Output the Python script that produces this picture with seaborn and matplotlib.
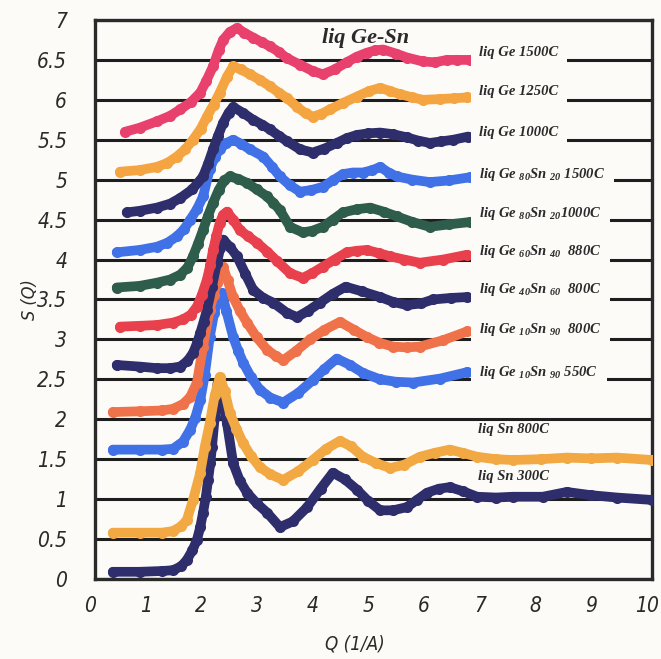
import seaborn as sns
import matplotlib.pyplot as plt
import matplotlib.transforms as mtransforms
import numpy as np
import pandas as pd

# S(Q) curves (already vertically offset as plotted)
q_ge1500 = [0.54, 0.8, 1.11, 1.35, 1.53, 1.72, 1.89, 2.0, 2.12, 2.22, 2.30, 2.42, 2.55, 2.68, 2.84, 3.0, 3.14, 3.30, 3.45, 3.68, 3.91, 4.09, 4.30, 4.52, 4.70, 4.88, 5.03, 5.17, 5.40, 5.60, 5.89, 6.10, 6.32, 6.50, 6.73]
s_ge1500 = [5.60, 5.65, 5.73, 5.80, 5.88, 5.97, 6.09, 6.24, 6.42, 6.62, 6.75, 6.85, 6.90, 6.84, 6.78, 6.72, 6.67, 6.60, 6.52, 6.44, 6.36, 6.32, 6.38, 6.47, 6.54, 6.59, 6.62, 6.63, 6.58, 6.53, 6.48, 6.47, 6.50, 6.50, 6.50]

q_ge1250 = [0.45, 0.8, 1.11, 1.30, 1.47, 1.62, 1.76, 1.90, 2.01, 2.13, 2.24, 2.37, 2.48, 2.62, 2.78, 2.96, 3.14, 3.30, 3.45, 3.63, 3.78, 3.91, 4.05, 4.22, 4.45, 4.70, 4.92, 5.12, 5.30, 5.48, 5.70, 5.89, 6.20, 6.45, 6.68]
s_ge1250 = [5.10, 5.12, 5.16, 5.21, 5.29, 5.38, 5.50, 5.64, 5.79, 5.94, 6.09, 6.29, 6.42, 6.38, 6.32, 6.25, 6.17, 6.09, 6.02, 5.91, 5.83, 5.79, 5.82, 5.88, 5.96, 6.04, 6.11, 6.15, 6.11, 6.07, 6.03, 6.00, 6.01, 6.02, 6.03]

q_ge1000 = [0.57, 0.8, 1.11, 1.35, 1.53, 1.75, 1.94, 2.03, 2.12, 2.21, 2.30, 2.40, 2.48, 2.65, 2.84, 3.00, 3.14, 3.30, 3.45, 3.68, 3.91, 4.12, 4.34, 4.52, 4.70, 4.90, 5.12, 5.35, 5.60, 5.80, 6.01, 6.22, 6.43, 6.70]
s_ge1000 = [4.59, 4.61, 4.65, 4.70, 4.77, 4.88, 5.04, 5.20, 5.38, 5.55, 5.71, 5.84, 5.91, 5.84, 5.75, 5.69, 5.63, 5.55, 5.48, 5.38, 5.34, 5.39, 5.46, 5.52, 5.56, 5.58, 5.59, 5.57, 5.53, 5.49, 5.46, 5.48, 5.50, 5.54]

q_ge80_1500 = [0.39, 0.8, 1.11, 1.30, 1.47, 1.60, 1.71, 1.83, 1.94, 2.06, 2.15, 2.24, 2.36, 2.48, 2.62, 2.78, 3.02, 3.18, 3.32, 3.50, 3.68, 3.88, 4.09, 4.27, 4.45, 4.63, 4.81, 4.98, 5.12, 5.27, 5.42, 5.70, 6.01, 6.35, 6.73]
s_ge80_1500 = [4.09, 4.12, 4.16, 4.21, 4.29, 4.38, 4.50, 4.63, 4.79, 5.13, 5.28, 5.38, 5.46, 5.50, 5.45, 5.38, 5.29, 5.16, 5.04, 4.93, 4.85, 4.87, 4.91, 4.99, 5.07, 5.09, 5.09, 5.12, 5.16, 5.09, 5.04, 5.00, 4.97, 4.99, 5.03]

q_ge80_1000 = [0.39, 0.8, 1.11, 1.35, 1.53, 1.66, 1.76, 1.85, 1.94, 2.03, 2.12, 2.22, 2.32, 2.42, 2.57, 2.73, 2.90, 3.09, 3.20, 3.32, 3.50, 3.73, 3.90, 4.09, 4.27, 4.45, 4.70, 4.94, 5.18, 5.42, 5.70, 6.01, 6.35, 6.73]
s_ge80_1000 = [3.65, 3.67, 3.71, 3.75, 3.81, 3.90, 4.04, 4.20, 4.37, 4.55, 4.71, 4.87, 4.99, 5.04, 5.01, 4.96, 4.88, 4.79, 4.71, 4.62, 4.41, 4.34, 4.36, 4.41, 4.50, 4.59, 4.63, 4.65, 4.60, 4.54, 4.47, 4.41, 4.44, 4.47]

q_ge60_880 = [0.45, 0.8, 1.11, 1.40, 1.58, 1.72, 1.83, 1.92, 2.01, 2.07, 2.12, 2.18, 2.24, 2.30, 2.37, 2.48, 2.60, 2.75, 2.91, 3.09, 3.27, 3.50, 3.73, 3.90, 4.09, 4.30, 4.52, 4.70, 4.88, 5.10, 5.30, 5.55, 5.83, 6.25, 6.68]
s_ge60_880 = [3.16, 3.17, 3.18, 3.21, 3.25, 3.31, 3.41, 3.56, 3.75, 3.93, 4.12, 4.30, 4.46, 4.56, 4.60, 4.50, 4.37, 4.29, 4.21, 4.10, 3.98, 3.83, 3.77, 3.83, 3.91, 4.00, 4.09, 4.11, 4.12, 4.08, 4.04, 4.00, 3.96, 4.00, 4.06]

q_ge40_800 = [0.39, 0.8, 1.11, 1.35, 1.53, 1.66, 1.76, 1.83, 1.89, 1.95, 2.01, 2.10, 2.19, 2.25, 2.30, 2.42, 2.55, 2.70, 2.84, 3.02, 3.20, 3.45, 3.63, 3.83, 4.04, 4.27, 4.50, 4.80, 5.12, 5.35, 5.60, 5.85, 6.07, 6.40, 6.68]
s_ge40_800 = [2.68, 2.66, 2.64, 2.64, 2.66, 2.73, 2.83, 2.95, 3.08, 3.22, 3.37, 3.66, 3.96, 4.15, 4.25, 4.16, 4.04, 3.82, 3.62, 3.52, 3.46, 3.33, 3.28, 3.36, 3.46, 3.57, 3.66, 3.60, 3.53, 3.47, 3.43, 3.45, 3.50, 3.52, 3.53]

q_ge10_800 = [0.32, 0.8, 1.2, 1.40, 1.58, 1.71, 1.83, 1.94, 2.06, 2.13, 2.19, 2.25, 2.30, 2.38, 2.48, 2.60, 2.73, 2.90, 3.09, 3.25, 3.38, 3.60, 3.86, 4.12, 4.40, 4.65, 4.88, 5.10, 5.35, 5.60, 5.83, 6.25, 6.68]
s_ge10_800 = [2.09, 2.10, 2.11, 2.13, 2.19, 2.28, 2.46, 2.91, 3.37, 3.56, 3.71, 3.84, 3.91, 3.74, 3.53, 3.36, 3.21, 3.03, 2.87, 2.79, 2.74, 2.85, 3.00, 3.12, 3.22, 3.12, 3.03, 2.96, 2.91, 2.90, 2.91, 2.99, 3.10]

q_ge10_550 = [0.32, 0.8, 1.2, 1.40, 1.58, 1.71, 1.80, 1.89, 1.97, 2.06, 2.14, 2.22, 2.28, 2.36, 2.48, 2.57, 2.66, 2.80, 2.96, 3.15, 3.38, 3.65, 3.91, 4.12, 4.34, 4.58, 4.81, 5.12, 5.40, 5.71, 6.20, 6.68]
s_ge10_550 = [1.62, 1.62, 1.62, 1.63, 1.72, 1.87, 2.02, 2.24, 2.55, 3.03, 3.33, 3.52, 3.58, 3.35, 3.03, 2.86, 2.71, 2.53, 2.37, 2.27, 2.21, 2.33, 2.49, 2.63, 2.76, 2.68, 2.58, 2.50, 2.47, 2.46, 2.51, 2.59]

q_sn800 = [0.32, 0.8, 1.2, 1.40, 1.55, 1.65, 1.76, 1.89, 1.97, 2.06, 2.15, 2.24, 2.33, 2.42, 2.54, 2.66, 2.80, 2.96, 3.15, 3.38, 3.65, 3.91, 4.15, 4.40, 4.60, 4.81, 5.05, 5.30, 5.55, 5.83, 6.10, 6.37, 6.60, 6.86, 7.20, 7.50, 8.0, 8.47, 8.9, 9.37, 10.0]
s_sn800 = [0.58, 0.58, 0.58, 0.60, 0.66, 0.74, 0.99, 1.33, 1.65, 1.95, 2.30, 2.53, 2.35, 2.08, 1.88, 1.70, 1.54, 1.40, 1.31, 1.24, 1.35, 1.49, 1.63, 1.73, 1.66, 1.53, 1.45, 1.39, 1.43, 1.53, 1.58, 1.62, 1.58, 1.53, 1.50, 1.49, 1.50, 1.52, 1.51, 1.52, 1.49]

q_sn300 = [0.32, 0.8, 1.2, 1.40, 1.55, 1.65, 1.75, 1.83, 1.89, 1.94, 1.99, 2.03, 2.07, 2.10, 2.15, 2.20, 2.28, 2.37, 2.48, 2.60, 2.73, 2.90, 3.09, 3.32, 3.55, 3.81, 4.05, 4.27, 4.48, 4.70, 4.90, 5.12, 5.35, 5.60, 5.78, 5.96, 6.17, 6.37, 6.60, 6.86, 7.20, 7.50, 8.04, 8.47, 8.9, 9.37, 10.0]
s_sn300 = [0.09, 0.09, 0.10, 0.11, 0.16, 0.24, 0.36, 0.49, 0.65, 0.83, 1.03, 1.24, 1.45, 1.65, 2.03, 2.45, 2.25, 1.95, 1.45, 1.23, 1.08, 0.95, 0.83, 0.65, 0.72, 0.90, 1.13, 1.33, 1.25, 1.12, 0.98, 0.86, 0.86, 0.90, 0.99, 1.08, 1.13, 1.15, 1.10, 1.03, 1.02, 1.03, 1.03, 1.09, 1.05, 1.02, 0.99]

labels = [
    'liq Ge 1500C',
    'liq Ge 1250C',
    'liq Ge 1000C',
    r'liq Ge $_{80}$Sn $_{20}$ 1500C',
    r'liq Ge $_{80}$Sn $_{20}$1000C',
    r'liq Ge $_{60}$Sn $_{40}$  880C',
    r'liq Ge $_{40}$Sn $_{60}$  800C',
    r'liq Ge $_{10}$Sn $_{90}$  800C',
    r'liq Ge $_{10}$Sn $_{90}$ 550C',
    'liq Sn 800C',
    'liq Sn 300C',
]
q_data = [q_ge1500, q_ge1250, q_ge1000, q_ge80_1500, q_ge80_1000, q_ge60_880,
          q_ge40_800, q_ge10_800, q_ge10_550, q_sn800, q_sn300]
s_data = [s_ge1500, s_ge1250, s_ge1000, s_ge80_1500, s_ge80_1000, s_ge60_880,
          s_ge40_800, s_ge10_800, s_ge10_550, s_sn800, s_sn300]
colors = ['#e8416e', '#f4a541', '#2f2e6c', '#4171e6', '#2f5d4b', '#e8404c',
          '#2f2e6c', '#f0724a', '#4171e6', '#f2a843', '#2f2e6c']

# label anchors (Q, S)
label_pos = [(6.9, 6.59), (6.9, 6.10), (6.9, 5.59), (6.9, 5.06), (6.9, 4.58),
             (6.9, 4.10), (6.9, 3.62), (6.9, 3.12), (6.9, 2.59),
             (6.87, 1.87), (6.87, 1.28)]

y_ticks = np.arange(0, 7.01, 0.5)
y_tick_labels = ['0', '0.5', '1', '1.5', '2', '2.5', '3', '3.5', '4', '4.5', '5', '5.5', '6', '6.5', '7']
x_ticks = list(range(0, 11))

df = pd.concat([pd.DataFrame({'Q': q, 'S': s, 'series': lab})
                for q, s, lab in zip(q_data, s_data, labels)], ignore_index=True)

sns.set_style('white')
plt.rcParams['mathtext.fontset'] = 'custom'
plt.rcParams['mathtext.rm'] = 'Liberation Serif:bold:italic'
plt.rcParams['mathtext.it'] = 'Liberation Serif:bold:italic'
plt.rcParams['mathtext.bf'] = 'Liberation Serif:bold:italic'

bg = '#fdfbf8'
ink = '#2a2a2a'
fig = plt.figure(figsize=(6.61, 6.59), dpi=100, facecolor=bg)
ax = fig.add_axes([0.1437, 0.1214, 0.8427, 0.8483])
ax.set_facecolor(bg)

sns.lineplot(data=df, x='Q', y='S', hue='series', hue_order=labels[::-1],
             palette=dict(zip(labels, colors)), sort=False, estimator=None,
             marker='o', markersize=8, markeredgewidth=0, linewidth=7,
             solid_joinstyle='round', solid_capstyle='round',
             legend=False, ax=ax, zorder=3)

ax.set_xlim(0, 10)
ax.set_ylim(0, 7)
ax.set_yticks(y_ticks)
ax.set_yticklabels(y_tick_labels)
ax.set_xticks(x_ticks)
ax.grid(axis='y', color='#1e1e1e', linewidth=2.2)
ax.set_axisbelow(True)
for sp in ax.spines.values():
    sp.set_linewidth(2.4)
    sp.set_color(ink)

tick_family = ['DejaVu Sans']
ax.tick_params(length=0)
ax.tick_params(axis='y', pad=20)
ax.tick_params(axis='x', pad=12)
for t in ax.get_xticklabels() + ax.get_yticklabels():
    t.set_fontfamily(tick_family)
    t.set_fontstretch('condensed')
    t.set_fontstyle('italic')
    t.set_fontsize(15)
    t.set_color(ink)

# italic digits in the original sit a little left of each tick
shift = mtransforms.ScaledTranslation(-0.05, 0, fig.dpi_scale_trans)
for t in ax.get_xticklabels():
    t.set_transform(t.get_transform() + shift)

ax.set_xlabel('Q (1/A)', fontsize=13.5, fontstyle='italic', fontstretch='condensed',
              family=tick_family, color=ink)
ax.set_ylabel('S (Q)', fontsize=13, fontstyle='italic', fontstretch='condensed',
              family=tick_family, color=ink)
ax.xaxis.set_label_coords(0.467, -0.1)
ax.yaxis.set_label_coords(-0.1, 0.5)

serif = 'Liberation Serif'
for i, (lab, (lx, ly)) in enumerate(zip(labels, label_pos)):
    box = dict(boxstyle='square,pad=0.6', facecolor=bg, edgecolor='none') if i < 9 else None
    ax.text(lx, ly, lab, fontsize=10.5, family=serif, weight='bold', style='italic',
            color=ink, va='center', ha='left', zorder=5, bbox=box)

ax.text(4.85, 6.78, 'liq Ge-Sn', fontsize=16, family=serif, weight='bold', style='italic',
        color=ink, va='center', ha='center', zorder=5)

plt.savefig('out.png', dpi=100, facecolor=bg)
